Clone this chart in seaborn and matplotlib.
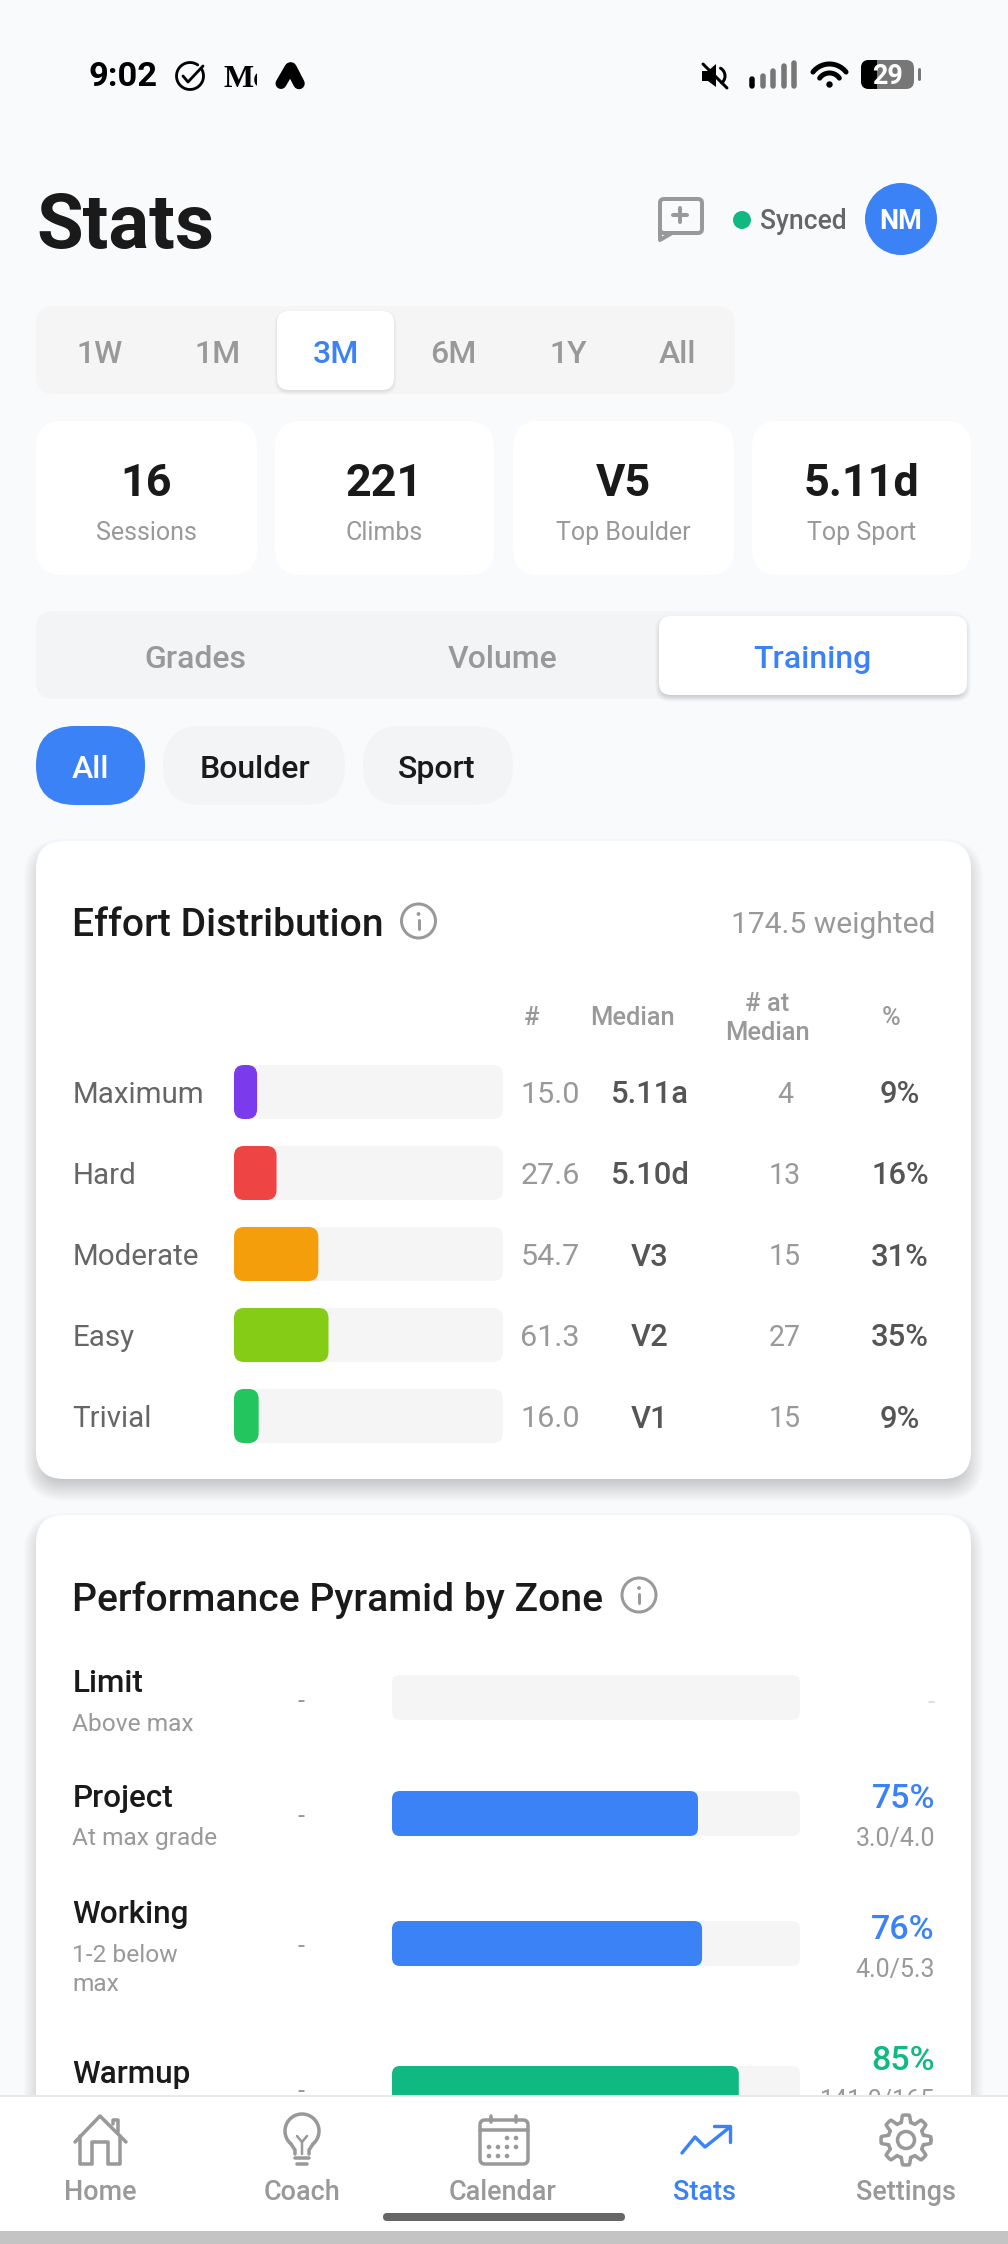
import numpy as np
import matplotlib
matplotlib.use("Agg")
import matplotlib.pyplot as plt
import matplotlib.transforms as mtrans
from matplotlib.patches import FancyBboxPatch, Circle, Rectangle, Polygon
import seaborn as sns

# ---------- data ----------
range_labels = ["1W", "1M", "3M", "6M", "1Y", "All"]
stat_values = ["16", "221", "V5", "5.11d"]
stat_labels = ["Sessions", "Climbs", "Top Boulder", "Top Sport"]
tab_labels = ["Grades", "Volume", "Training"]
chip_labels = ["All", "Boulder", "Sport"]
effort_labels = ["Maximum", "Hard", "Moderate", "Easy", "Trivial"]
effort_counts = [15.0, 27.6, 54.7, 61.3, 16.0]
effort_total = 174.5
effort_medians = ["5.11a", "5.10d", "V3", "V2", "V1"]
effort_at_median = [4, 13, 15, 27, 15]
effort_pct = [9, 16, 31, 35, 9]
effort_colors = ["#7C3AED", "#EF4444", "#F59E0B", "#84CC16", "#22C55E"]
zone_names = ["Limit", "Project", "Working", "Warmup"]
zone_subs = [["Above max"], ["At max grade"], ["1-2 below", "max"], []]
zone_pct = [0, 75, 76, 85]
zone_ratio = ["", "3.0/4.0", "4.0/5.3", "141.0/165"]
zone_colors = ["#3B82F6", "#3B82F6", "#3B82F6", "#10B981"]
nav_labels = ["Home", "Coach", "Calendar", "Stats", "Settings"]

# ---------- palette ----------
BG = "#F9FAFC"
BLUE = "#3B82F6"
INK = "#1A1A1A"
GREY = "#999999"
MID = "#666666"
DARK = "#555555"
TRACK = "#F5F5F5"
PILL = "#F3F4F6"

sns.set_style("white")
plt.rcParams["font.family"] = ["Roboto", "DejaVu Sans"]

fig = plt.figure(figsize=(10.08, 22.44), dpi=100, facecolor=BG)


def layer(z):
    a = fig.add_axes([0, 0, 1, 1], zorder=z)
    a.set_xlim(0, 1008)
    a.set_ylim(2244, 0)
    a.axis("off")
    a.patch.set_alpha(0)
    return a


base = layer(0)
top = layer(5)


def T(ax, x, y, s, px, color=INK, ha="center", weight="normal", va="baseline", **kw):
    return ax.text(x, y, s, fontsize=px * 0.72, color=color, ha=ha, va=va, weight=weight, **kw)


def RR(ax, x0, y0, x1, y1, r, fc="white", ec="none", lw=0, z=1, alpha=None):
    p = FancyBboxPatch((x0, y0), x1 - x0, y1 - y0, boxstyle=f"round,pad=0,rounding_size={r}",
                       fc=fc, ec=ec, lw=lw * 0.72, zorder=z, alpha=alpha)
    ax.add_patch(p)
    return p


def shadow(ax, x0, y0, x1, y1, r, dy, g_out, g_in, strength, z=0.5):
    n = 16
    for g in np.linspace(g_out, -g_in, n):
        RR(ax, x0 - g, y0 + dy - g, x1 + g, y1 + dy + g, max(r + g, 2), fc="black", z=z, alpha=strength / n)


def L(ax, xs, ys, color=GREY, lw=3, z=3, cap="round"):
    ax.plot(xs, ys, color=color, lw=lw * 0.72, zorder=z, solid_capstyle=cap, solid_joinstyle="round")


def arc(ax, cx, cy, r, a0, a1, color=GREY, lw=3, z=3):
    t = np.radians(np.linspace(a0, a1, 60))
    L(ax, cx + r * np.cos(t), cy - r * np.sin(t), color, lw, z)


def ring(ax, cx, cy, r, color=GREY, lw=3, z=3):
    ax.add_patch(Circle((cx, cy), r, fc="none", ec=color, lw=lw * 0.72, zorder=z))


def info(ax, cx, cy):
    ring(ax, cx, cy, 17)
    L(ax, [cx, cx], [cy - 1, cy + 8], GREY, 3)
    ax.add_patch(Circle((cx, cy - 7), 1.9, fc=GREY, ec="none", zorder=3))


def round_bars(ax, r):
    """Give the bars the library drew rounded corners, at the same extents."""
    for p in list(ax.patches):
        if isinstance(p, FancyBboxPatch):
            continue
        bb = p.get_window_extent()
        (x0, y0), (x1, y1) = base.transData.inverted().transform([(bb.x0, bb.y0), (bb.x1, bb.y1)])
        fc, z = p.get_facecolor(), p.get_zorder()
        p.remove()
        if abs(x1 - x0) < 0.5:
            continue
        q = FancyBboxPatch((x0, min(y0, y1)), x1 - x0, abs(y1 - y0),
                           boxstyle=f"round,pad=0,rounding_size={r}", fc=fc, ec="none",
                           transform=base.transData, zorder=z, clip_on=False)
        ax.add_patch(q)


def chart_axes(x0, y0, x1, y1):
    return fig.add_axes([x0 / 1008, 1 - y1 / 2244, (x1 - x0) / 1008, (y1 - y0) / 2244], zorder=1)


# ---------- status bar ----------
T(base, 88, 86, "9:02", 34.5, "black", ha="left", weight="bold")
arc(base, 190, 76, 13.5, 55, 395, "black", 2.8)
L(base, [183, 188, 203], [76, 82, 66], "black", 2.8)
mc = T(base, 223, 87, "Mc", 32, "black", ha="left", weight="bold", family="Liberation Serif")
mc.set_clip_box(mtrans.TransformedBbox(mtrans.Bbox([[223, 60], [257, 92]]), base.transData))
mc.set_clip_on(True)
L(base, [290, 281], [68, 83.5], "black", 11)
L(base, [291, 299], [68, 83.5], "black", 11.5)
base.add_patch(Polygon([(702, 71), (708, 71), (716, 64), (716, 87), (708, 81), (702, 81)], fc="black", ec="none", zorder=3))
arc(base, 716, 76, 9, -50, 60, "black", 3)
L(base, [703, 727], [64, 88], "black", 3)
for x, yt, col in zip([752, 763, 773, 784, 794], [79, 76, 71, 66, 63], ["black", "#777777", "#777777", "#777777", "#777777"]):
    L(base, [x, x], [yt, 85.5], col, 5.5)
arc(base, 829.5, 85, 21, 38, 142, "black", 5)
arc(base, 829.5, 85, 12, 35, 145, "black", 5)
base.add_patch(Circle((829.5, 84.5), 3.2, fc="black", ec="none", zorder=3))
RR(base, 861, 60, 914, 89, 8, fc="#777777", z=2)
blk = RR(base, 861, 60, 895, 89, 8, fc="black", z=2.1)
blk.set_clip_path(Rectangle((855, 55), 22, 40, transform=base.transData))
T(base, 888, 84, "29", 27, "white", weight="bold", zorder=3)
L(base, [918.5, 918.5], [69, 79], "#777777", 3)

# ---------- header ----------
T(base, 36, 248, "Stats", 76, INK, ha="left", weight="bold")
RR(base, 660, 199, 702, 233, 4, fc="none", ec=GREY, lw=4, z=3)
L(base, [660, 660, 672], [230, 240, 233], GREY, 4)
L(base, [680, 680], [208, 222], GREY, 4)
L(base, [673, 687], [215, 215], GREY, 4)
base.add_patch(Circle((742, 220), 9, fc="#10B981", ec="none", zorder=3))
T(base, 760, 229, "Synced", 26.5, MID, ha="left", weight="medium")
base.add_patch(Circle((901, 219), 36, fc=BLUE, ec="none", zorder=3))
T(base, 901, 229, "NM", 27, "white", weight="bold", zorder=4)

# ---------- range selector ----------
RR(base, 36, 306, 735, 394, 18, fc=TRACK)
shadow(base, 277, 311, 394, 390, 12, 2, 3, 3, 0.12, z=1.5)
RR(base, 277, 311, 394, 390, 12, fc="white", z=2)
for x, s in zip([100, 218, 335.5, 453.5, 568, 677.5], range_labels):
    T(base, x, 363, s, 32, BLUE if s == "3M" else GREY, weight="medium", zorder=4)

# ---------- stat cards ----------
for (x0, x1), v, s in zip([(36, 257), (275, 494), (513, 734), (752, 971)], stat_values, stat_labels):
    RR(base, x0, 421, x1, 575, 26, fc="white")
    T(base, (x0 + x1) / 2, 496, v, 45, INK, weight="bold", zorder=4)
    T(base, (x0 + x1) / 2, 540, s, 25, GREY, zorder=4)

# ---------- tabs ----------
RR(base, 36, 611, 967, 699, 18, fc=PILL)
shadow(base, 659, 616, 967, 695, 12, 3, 4, 4, 0.16, z=1.5)
RR(base, 659, 616, 967, 695, 12, fc="white", z=2)
for x, s in zip([195, 503, 812.5], tab_labels):
    T(base, x, 668, s, 32, BLUE if s == "Training" else GREY, weight="medium", zorder=4)

# ---------- chips ----------
for (x0, x1), s, cx in zip([(36, 145), (163, 345), (363, 513)], chip_labels, [90, 254.5, 437]):
    active = s == "All"
    RR(base, x0, 726, x1, 805, 39, fc=BLUE if active else PILL)
    T(base, cx, 778, s, 32, "white" if active else INK, weight="medium", zorder=4)

# ---------- effort card ----------
shadow(base, 36, 841, 971, 1479, 28, 10, 12, 14, 0.22)
RR(base, 36, 841, 971, 1479, 28, fc="white")
T(base, 72.5, 936, "Effort Distribution", 39, INK, ha="left", weight="medium", zorder=4)
info(base, 418.5, 921)
T(base, 935, 933, f"{effort_total} weighted", 30, GREY, ha="right", zorder=4)
T(base, 531.5, 1025, "#", 25.5, GREY, weight="medium", zorder=4)
T(base, 632, 1025, "Median", 25.5, GREY, weight="medium", zorder=4)
T(base, 767, 1011, "# at", 25.5, GREY, weight="medium", zorder=4)
T(base, 767, 1040, "Median", 25.5, GREY, weight="medium", zorder=4)
T(base, 891, 1025, "%", 25.5, GREY, weight="medium", zorder=4)

ea = chart_axes(234, 1051.5, 503, 1456.5)
sns.barplot(x=[effort_total] * len(effort_labels), y=effort_labels, color=TRACK, saturation=1,
            width=0.667, ax=ea)
sns.barplot(x=effort_counts, y=effort_labels, hue=effort_labels, palette=effort_colors, saturation=1,
            width=0.667, dodge=False, legend=False, ax=ea)
ea.set_xlim(0, effort_total)
ea.set_ylim(len(effort_labels) - 0.5, -0.5)
ea.axis("off")
round_bars(ea, 10)
row = mtrans.blended_transform_factory(base.transData, ea.transData)
for i, lab in enumerate(effort_labels):
    kw = dict(transform=row, va="center_baseline")
    ea.text(72.5, i, lab, color=MID, ha="left", fontsize=29.5 * 0.72, **kw)
    ea.text(550, i, f"{effort_counts[i]:.1f}", color=GREY, ha="center", fontsize=30.5 * 0.72, **kw)
    ea.text(650, i, effort_medians[i], color=DARK, ha="center", weight="medium", fontsize=31 * 0.72, **kw)
    ea.text(785, i, str(effort_at_median[i]), color=GREY, ha="center", fontsize=28.5 * 0.72, **kw)
    ea.text(900, i, f"{effort_pct[i]}%", color=DARK, ha="center", weight="medium", fontsize=31 * 0.72, **kw)

# ---------- pyramid card ----------
shadow(base, 36, 1515, 971, 2300, 28, 10, 12, 14, 0.22)
RR(base, 36, 1515, 971, 2300, 28, fc="white")
T(base, 72.5, 1611, "Performance Pyramid by Zone", 39, INK, ha="left", weight="medium", zorder=4)
info(base, 639, 1595)

track_tops = [1675, 1791, 1921, 2066]
name_base = [1692, 1807, 1923, 2083]
sub_base = [[1731], [1845], [1962, 1991], []]
dash_y = [1699, 1814, 1944, 2090]
pct_base = [None, 1808, 1938.5, 2069.5]
ratio_base = [None, 1846, 1976.5, 2108]
for i, name in enumerate(zone_names):
    t = track_tops[i]
    za = chart_axes(392, t, 800, t + 45)
    sns.barplot(x=[100], y=[name], color=TRACK, saturation=1, width=1, ax=za)
    sns.barplot(x=[zone_pct[i]], y=[name], color=zone_colors[i], saturation=1, width=1, ax=za)
    za.set_xlim(0, 100)
    za.set_ylim(0.5, -0.5)
    za.axis("off")
    round_bars(za, 8)
    T(base, 72.5, name_base[i], name, 31.5, INK, ha="left", weight="medium", zorder=4)
    for yb, s in zip(sub_base[i], zone_subs[i]):
        T(base, 72.5, yb, s, 24.5, GREY, ha="left", zorder=4)
    T(base, 301.5, dash_y[i], "-", 25, GREY, va="center_baseline", zorder=4)
    if zone_pct[i]:
        T(base, 935, pct_base[i], f"{zone_pct[i]}%", 34, zone_colors[i], ha="right", weight="medium", zorder=4)
        T(base, 935, ratio_base[i], zone_ratio[i], 25, GREY, ha="right", zorder=4)
    else:
        T(base, 931, 1700, "-", 25, "#DDDDDD", va="center_baseline", zorder=4)

# ---------- bottom navigation ----------
top.add_patch(Rectangle((0, 2096), 1008, 135, fc="white", ec="none", zorder=1))
top.add_patch(Rectangle((0, 2095), 1008, 2, fc="#E8E8E8", ec="none", zorder=1.5))
top.add_patch(Rectangle((0, 2231), 1008, 13, fc="#C4C4C4", ec="none", zorder=1))
for x, s in zip([100, 302, 503, 705, 906], nav_labels):
    T(top, x, 2200, s, 27, BLUE if s == "Stats" else GREY, weight="medium", zorder=4)
# home
L(top, [75, 100, 126], [2142, 2116, 2142], lw=3.5)
L(top, [80, 80, 92, 92, 108, 108, 120, 120], [2136, 2164, 2164, 2142, 2142, 2164, 2164, 2136], lw=3.5)
L(top, [113, 113, 118, 118], [2124, 2120, 2120, 2132], lw=3.5)
# coach
arc(top, 302, 2131, 17, -50, 230, lw=3.5)
L(top, [291, 295, 295], [2144, 2150, 2154], lw=3.5)
L(top, [313, 309, 309], [2144, 2150, 2154], lw=3.5)
L(top, [297, 302, 307], [2136, 2142, 2136], lw=2.5)
L(top, [302, 302], [2142, 2154], lw=2.5)
L(top, [295, 309], [2158, 2158], lw=3.5)
L(top, [297, 307], [2164, 2164], lw=3.5)
# calendar
RR(top, 480, 2120, 528, 2164, 5, fc="none", ec=GREY, lw=3.5, z=3)
L(top, [480, 528], [2130, 2130], lw=3.5)
L(top, [491, 491], [2116, 2122], lw=3.5)
L(top, [516, 516], [2116, 2122], lw=3.5)
for cx, cy in [(507, 2138), (516, 2138), (489, 2147), (498, 2147), (507, 2147), (516, 2147), (489, 2156), (498, 2156), (507, 2156)]:
    top.add_patch(Circle((cx, cy), 2.3, fc=GREY, ec="none", zorder=3))
# stats
L(top, [682, 695, 705, 730], [2153, 2137, 2147, 2127], BLUE, 3.4)
L(top, [714, 730, 730], [2126, 2126, 2142], BLUE, 3.4)
# settings
th = np.linspace(0, 2 * np.pi, 241)
gear = 21.5 + 3.5 * np.clip(2.2 * np.cos(8 * th), -1, 1)
L(top, 906 + gear * np.cos(th), 2140 + gear * np.sin(th), GREY, 3.5)
ring(top, 906, 2140, 8.5, lw=3.5)
# home indicator
RR(top, 383, 2213, 625, 2221, 4, fc=MID, z=3)

fig.savefig("out.png", dpi=100, facecolor=BG)
